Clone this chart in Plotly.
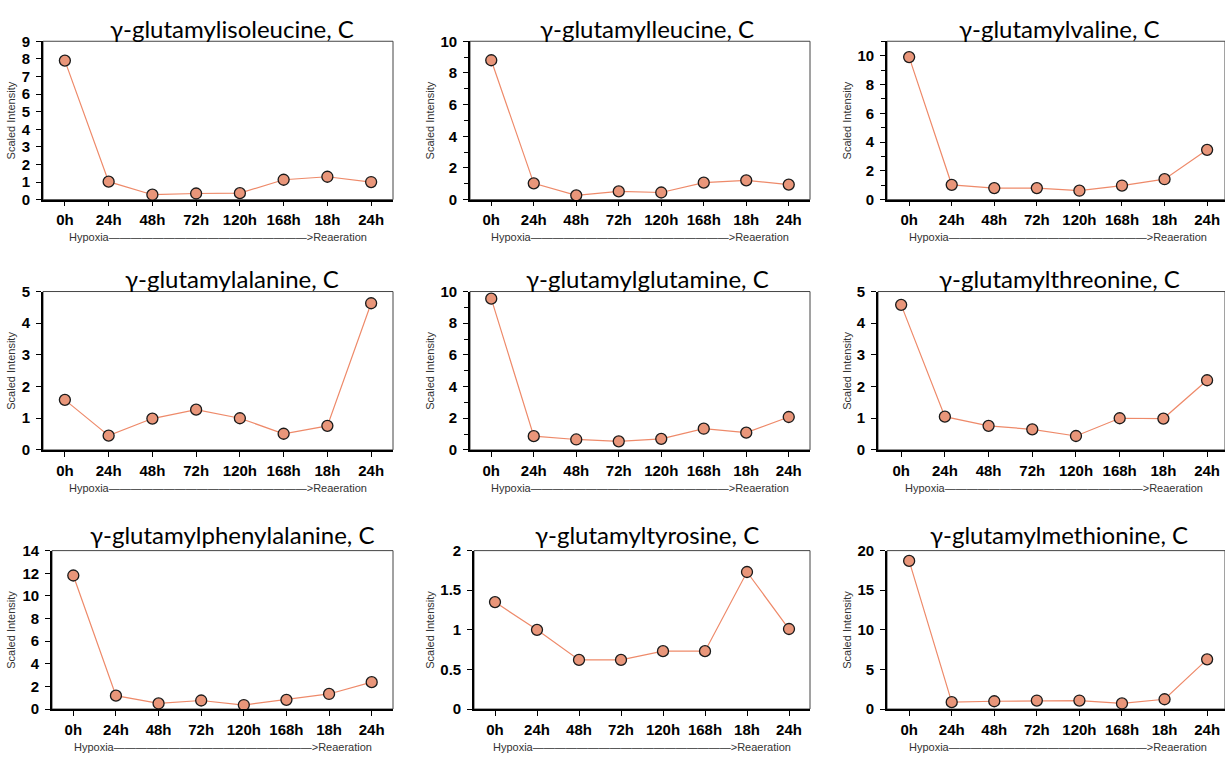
import plotly.graph_objects as go

W, H = 1225, 761

time_labels = ["0h", "24h", "48h", "72h", "120h", "168h", "18h", "24h"]
titles = [
    "γ-glutamylisoleucine, C", "γ-glutamylleucine, C", "γ-glutamylvaline, C",
    "γ-glutamylalanine, C", "γ-glutamylglutamine, C", "γ-glutamylthreonine, C",
    "γ-glutamylphenylalanine, C", "γ-glutamyltyrosine, C", "γ-glutamylmethionine, C",
]
isoleucine = [7.9, 1.02, 0.28, 0.35, 0.37, 1.13, 1.30, 1.0]
leucine = [8.8, 1.03, 0.27, 0.52, 0.45, 1.07, 1.22, 0.95]
valine = [9.9, 1.03, 0.80, 0.80, 0.62, 0.98, 1.42, 3.46]
alanine = [1.58, 0.45, 0.99, 1.27, 1.0, 0.51, 0.76, 4.63]
glutamine = [9.55, 0.87, 0.66, 0.54, 0.70, 1.34, 1.09, 2.08]
threonine = [4.58, 1.05, 0.76, 0.65, 0.44, 1.0, 0.99, 2.2]
phenylalanine = [11.8, 1.18, 0.49, 0.75, 0.35, 0.81, 1.33, 2.37]
tyrosine = [1.35, 1.0, 0.62, 0.62, 0.73, 0.73, 1.73, 1.01]
methionine = [18.7, 0.86, 0.98, 1.07, 1.07, 0.70, 1.23, 6.27]
series = [isoleucine, leucine, valine, alanine, glutamine, threonine,
          phenylalanine, tyrosine, methionine]

y_max = [9, 10, 11, 5, 10, 5, 14, 2, 20]
y_dtick = [1, 2, 2, 1, 2, 1, 2, 0.5, 5]
y_minor = [None, 1, 1, None, 1, None, None, None, None]

# pixel layout (left, right, top, bottom)
boxes = [
    (43, 393, 33, 195), (470, 810, 33, 195), (887, 1225, 33, 195),
    (43, 393, 289, 451), (470, 810, 289, 451), (878, 1225, 289, 451),
    (52, 393, 554, 716), (474, 810, 554, 716), (887, 1225, 554, 716),
]
x_ranges = [
    [-0.5, 7.5], [-0.5, 7.5], [-0.52, 7.42],
    [-0.5, 7.5], [-0.5, 7.5], [-0.53, 7.41],
    [-0.5, 7.5], [-0.5, 7.5], [-0.52, 7.42],
]
title_x = [232, 647, 1059]
title_y = [20, 276, 538]
hyp_y = [233, 490, 755]
ylab_x = [11, 430, 847]

LINE_COL = "#EE8A6A"
MARK_COL = "#E9967A"
TICK_FONT = dict(family="Arial, Liberation Sans", size=15, color="black", weight="bold")

fig = go.Figure()
layout = dict(width=W, height=H, margin=dict(l=0, r=0, t=0, b=0),
              paper_bgcolor="white", plot_bgcolor="white", showlegend=False)
annotations = []
shapes = []
xs = list(range(len(time_labels)))

for i in range(9):
    n = i + 1
    xa = "x" if n == 1 else f"x{n}"
    ya = "y" if n == 1 else f"y{n}"
    l, r, t, b = boxes[i]
    fig.add_trace(go.Scatter(
        x=xs, y=series[i], xaxis=xa, yaxis=ya, mode="lines+markers",
        line=dict(color=LINE_COL, width=1.2),
        marker=dict(size=11, color=MARK_COL, line=dict(color="#1a1a1a", width=1.3)),
        cliponaxis=False,
    ))
    layout["xaxis" if n == 1 else f"xaxis{n}"] = dict(
        domain=[l / W, r / W], anchor=ya, range=x_ranges[i],
        tickmode="array", tickvals=xs, ticktext=time_labels,
        ticks="outside", ticklen=5, tickwidth=1, tickcolor="black",
        showline=True, linecolor="black", linewidth=1.6,
        showgrid=False, zeroline=False, tickfont=TICK_FONT,
        ticklabelstandoff=1, fixedrange=True,
    )
    ydict = dict(
        domain=[1 - b / H, 1 - t / H], anchor=xa, range=[0, y_max[i]],
        tick0=0, dtick=y_dtick[i],
        ticks="outside", ticklen=5, tickwidth=1, tickcolor="black",
        showline=True, linecolor="black", linewidth=1.6,
        showgrid=False, zeroline=False, tickfont=TICK_FONT,
        ticklabelstandoff=3, fixedrange=True,
    )
    if y_minor[i]:
        ydict["minor"] = dict(dtick=y_minor[i], ticks="outside", ticklen=4,
                              tickcolor="black", tickwidth=1, showgrid=False)
    layout["yaxis" if n == 1 else f"yaxis{n}"] = ydict

    # thin box around plot area
    shapes.append(dict(type="rect", xref=f"{xa} domain", yref=f"{ya} domain",
                       x0=0, x1=1, y0=0, y1=1, line=dict(color="#444444", width=1),
                       layer="below"))

    row, col = i // 3, i % 3
    annotations.append(dict(
        text=titles[i], xref="paper", yref="paper",
        x=title_x[col] / W, y=1 - title_y[row] / H, xanchor="center", yanchor="middle",
        showarrow=False, font=dict(family="Lato, Open Sans", size=24, color="black"),
    ))
    annotations.append(dict(
        text="Scaled Intensity", xref="paper", yref="paper",
        x=ylab_x[col] / W, y=1 - ((t + b) / 2) / H, xanchor="center", yanchor="middle",
        textangle=-90, showarrow=False,
        font=dict(family="Arial, Liberation Sans", size=11, color="#333333"),
    ))
    annotations.append(dict(
        text="Hypoxia" + "—" * 18 + ">Reaeration", xref=xa, yref="paper",
        x=3.5, y=1 - hyp_y[row] / H, xanchor="center", yanchor="middle",
        showarrow=False,
        font=dict(family="Arial, Liberation Sans", size=11, color="#333333"),
    ))

layout["annotations"] = annotations
layout["shapes"] = shapes
fig.update_layout(**layout)
fig.write_html("out.html")
